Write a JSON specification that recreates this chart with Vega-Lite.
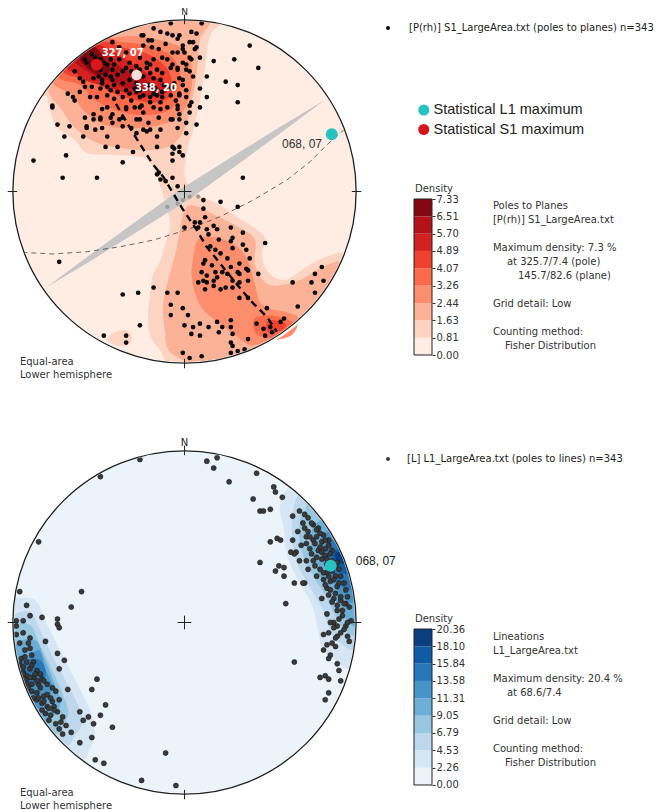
{
  "$schema": "https://vega.github.io/schema/vega-lite/v6.json",
  "background": "white",
  "padding": {"left": 0, "top": 7, "right": 0, "bottom": 0},
  "config": {"view": {"stroke": null}, "font": "DejaVu Sans", "text": {"fontSize": 10, "color": "#333333"}},
  "columns": 2,
  "align": "each",
  "bounds": "flush",
  "spacing": {"row": 62, "column": 45},
  "resolve": {"scale": {"fill": "independent", "color": "independent", "shape": "independent"}},
  "datasets": {
    "center": [{"x": 0, "y": 0}],
    "frame": [
      {"x": 0, "y": 97.5, "x2": 0, "y2": 103}, {"x": 0, "y": -97.5, "x2": 0, "y2": -103},
      {"x": 97.5, "y": 0, "x2": 103, "y2": 0}, {"x": -97.5, "y": 0, "x2": -103, "y2": 0},
      {"x": -4, "y": 0, "x2": 4, "y2": 0}, {"x": 0, "y": -4, "x2": 0, "y2": 4}
    ],
    "north": [{"x": 0, "y": 104.5, "label": "N"}],
    "topContours": [
      {"poly":"t1a","level":0.81,"x":20.8,"y":97.8},{"poly":"t1a","level":0.81,"x":14.9,"y":91.2},{"poly":"t1a","level":0.81,"x":11.9,"y":72.5},{"poly":"t1a","level":0.81,"x":9.0,"y":53.3},{"poly":"t1a","level":0.81,"x":5.0,"y":35.8},{"poly":"t1a","level":0.81,"x":0.9,"y":21.3},{"poly":"t1a","level":0.81,"x":0.3,"y":8.4},{"poly":"t1a","level":0.81,"x":4.4,"y":0.9},{"poly":"t1a","level":0.81,"x":11.9,"y":-3.8},{"poly":"t1a","level":0.81,"x":20.7,"y":-7.9},{"poly":"t1a","level":0.81,"x":30.6,"y":-14.9},{"poly":"t1a","level":0.81,"x":39.9,"y":-20.7},{"poly":"t1a","level":0.81,"x":46.9,"y":-27.1},{"poly":"t1a","level":0.81,"x":45.2,"y":-37.0},{"poly":"t1a","level":0.81,"x":48.7,"y":-46.9},{"poly":"t1a","level":0.81,"x":58.6,"y":-51.6},{"poly":"t1a","level":0.81,"x":70.2,"y":-44.6},{"poly":"t1a","level":0.81,"x":80.1,"y":-39.0},{"poly":"t1a","level":0.81,"x":92.7,"y":-37.5},{"poly":"t1a","level":0.81,"x":76.6,"y":-64.2},{"poly":"t1a","level":0.81,"x":53.0,"y":-84.8},{"poly":"t1a","level":0.81,"x":24.2,"y":-97.0},{"poly":"t1a","level":0.81,"x":-7.0,"y":-99.7},{"poly":"t1a","level":0.81,"x":-14.3,"y":-92.4},{"poly":"t1a","level":0.81,"x":-20.1,"y":-83.6},{"poly":"t1a","level":0.81,"x":-21.3,"y":-72.0},{"poly":"t1a","level":0.81,"x":-20.1,"y":-60.3},{"poly":"t1a","level":0.81,"x":-18.4,"y":-48.7},{"poly":"t1a","level":0.81,"x":-14.3,"y":-41.1},{"poly":"t1a","level":0.81,"x":-11.4,"y":-31.2},{"poly":"t1a","level":0.81,"x":-8.4,"y":-19.5},{"poly":"t1a","level":0.81,"x":-10.8,"y":-7.9},{"poly":"t1a","level":0.81,"x":-14.3,"y":3.8},{"poly":"t1a","level":0.81,"x":-18.9,"y":15.4},{"poly":"t1a","level":0.81,"x":-25.9,"y":20.1},{"poly":"t1a","level":0.81,"x":-39.3,"y":21.3},{"poly":"t1a","level":0.81,"x":-56.8,"y":22.4},{"poly":"t1a","level":0.81,"x":-63.8,"y":30.0},{"poly":"t1a","level":0.81,"x":-74.3,"y":37.6},{"poly":"t1a","level":0.81,"x":-78.4,"y":47.5},{"poly":"t1a","level":0.81,"x":-80.1,"y":55.1},{"poly":"t1a","level":0.81,"x":-81.9,"y":57.4},{"poly":"t1a","level":0.81,"x":-64.3,"y":76.6},{"poly":"t1a","level":0.81,"x":-42.3,"y":90.7},{"poly":"t1a","level":0.81,"x":-17.4,"y":98.5},{"poly":"t1a","level":0.81,"x":8.7,"y":99.6},
      {"poly":"t1b","level":0.81,"x":-41.7,"y":-82.5},{"poly":"t1b","level":0.81,"x":-34.7,"y":-80.7},{"poly":"t1b","level":0.81,"x":-30.6,"y":-84.8},{"poly":"t1b","level":0.81,"x":-32.9,"y":-89.4},{"poly":"t1b","level":0.81,"x":-40.5,"y":-89.4},{"poly":"t1b","level":0.81,"x":-44.6,"y":-86.5},
      {"poly":"t2a","level":1.63,"x":13.9,"y":99.0},{"poly":"t2a","level":1.63,"x":9.0,"y":88.3},{"poly":"t2a","level":1.63,"x":7.3,"y":70.8},{"poly":"t2a","level":1.63,"x":4.4,"y":53.3},{"poly":"t2a","level":1.63,"x":0.3,"y":37.0},{"poly":"t2a","level":1.63,"x":-7.3,"y":27.1},{"poly":"t2a","level":1.63,"x":-20.1,"y":24.2},{"poly":"t2a","level":1.63,"x":-37.6,"y":25.4},{"poly":"t2a","level":1.63,"x":-52.2,"y":28.8},{"poly":"t2a","level":1.63,"x":-63.8,"y":37.0},{"poly":"t2a","level":1.63,"x":-71.4,"y":47.5},{"poly":"t2a","level":1.63,"x":-78.8,"y":61.5},{"poly":"t2a","level":1.63,"x":-57.4,"y":81.9},{"poly":"t2a","level":1.63,"x":-30.9,"y":95.1},{"poly":"t2a","level":1.63,"x":-8.7,"y":99.6},
      {"poly":"t2b","level":1.63,"x":4.4,"y":-7.9},{"poly":"t2b","level":1.63,"x":17.8,"y":-13.7},{"poly":"t2b","level":1.63,"x":32.3,"y":-21.3},{"poly":"t2b","level":1.63,"x":41.1,"y":-28.3},{"poly":"t2b","level":1.63,"x":41.1,"y":-42.8},{"poly":"t2b","level":1.63,"x":49.8,"y":-54.5},{"poly":"t2b","level":1.63,"x":67.3,"y":-51.6},{"poly":"t2b","level":1.63,"x":79.0,"y":-44.6},{"poly":"t2b","level":1.63,"x":90.6,"y":-42.3},{"poly":"t2b","level":1.63,"x":70.7,"y":-70.7},{"poly":"t2b","level":1.63,"x":42.3,"y":-90.6},{"poly":"t2b","level":1.63,"x":8.7,"y":-99.6},{"poly":"t2b","level":1.63,"x":-8.4,"y":-93.5},{"poly":"t2b","level":1.63,"x":-11.4,"y":-80.7},{"poly":"t2b","level":1.63,"x":-12.5,"y":-66.1},{"poly":"t2b","level":1.63,"x":-9.6,"y":-51.6},{"poly":"t2b","level":1.63,"x":-5.5,"y":-37.0},{"poly":"t2b","level":1.63,"x":-2.6,"y":-22.4},{"poly":"t2b","level":1.63,"x":-0.3,"y":-11.9},
      {"poly":"t3a","level":2.44,"x":-43.4,"y":89.4},{"poly":"t3a","level":2.44,"x":-28.8,"y":90.6},{"poly":"t3a","level":2.44,"x":-14.3,"y":88.3},{"poly":"t3a","level":2.44,"x":0.3,"y":82.5},{"poly":"t3a","level":2.44,"x":4.4,"y":70.8},{"poly":"t3a","level":2.44,"x":3.2,"y":56.2},{"poly":"t3a","level":2.44,"x":-2.6,"y":44.6},{"poly":"t3a","level":2.44,"x":-14.3,"y":38.7},{"poly":"t3a","level":2.44,"x":-31.8,"y":37.0},{"poly":"t3a","level":2.44,"x":-46.3,"y":38.7},{"poly":"t3a","level":2.44,"x":-57.9,"y":46.3},{"poly":"t3a","level":2.44,"x":-65.5,"y":56.2},{"poly":"t3a","level":2.44,"x":-76.6,"y":64.3},{"poly":"t3a","level":2.44,"x":-61.6,"y":78.8},{"poly":"t3a","level":2.44,"x":-50.0,"y":86.6},
      {"poly":"t3b","level":2.44,"x":9.0,"y":-27.1},{"poly":"t3b","level":2.44,"x":23.6,"y":-28.3},{"poly":"t3b","level":2.44,"x":35.3,"y":-37.0},{"poly":"t3b","level":2.44,"x":41.1,"y":-54.5},{"poly":"t3b","level":2.44,"x":45.2,"y":-66.1},{"poly":"t3b","level":2.44,"x":58.6,"y":-70.2},{"poly":"t3b","level":2.44,"x":66.1,"y":-73.7},{"poly":"t3b","level":2.44,"x":62.6,"y":-83.6},{"poly":"t3b","level":2.44,"x":48.0,"y":-87.5},{"poly":"t3b","level":2.44,"x":38.2,"y":-89.4},{"poly":"t3b","level":2.44,"x":29.4,"y":-83.6},{"poly":"t3b","level":2.44,"x":17.8,"y":-74.9},{"poly":"t3b","level":2.44,"x":9.0,"y":-66.1},{"poly":"t3b","level":2.44,"x":4.4,"y":-51.6},{"poly":"t3b","level":2.44,"x":5.0,"y":-38.7},
      {"poly":"t4a","level":3.26,"x":-37.6,"y":87.1},{"poly":"t4a","level":3.26,"x":-23.0,"y":85.4},{"poly":"t4a","level":3.26,"x":-8.4,"y":79.5},{"poly":"t4a","level":3.26,"x":-2.6,"y":67.9},{"poly":"t4a","level":3.26,"x":-3.8,"y":53.3},{"poly":"t4a","level":3.26,"x":-11.4,"y":46.3},{"poly":"t4a","level":3.26,"x":-25.9,"y":44.6},{"poly":"t4a","level":3.26,"x":-40.5,"y":47.5},{"poly":"t4a","level":3.26,"x":-52.2,"y":53.3},{"poly":"t4a","level":3.26,"x":-60.9,"y":62.1},{"poly":"t4a","level":3.26,"x":-73.1,"y":68.2},{"poly":"t4a","level":3.26,"x":-46.9,"y":88.3},
      {"poly":"t4b","level":3.26,"x":41.1,"y":-73.7},{"poly":"t4b","level":3.26,"x":52.7,"y":-72.5},{"poly":"t4b","level":3.26,"x":62.6,"y":-76.0},{"poly":"t4b","level":3.26,"x":60.3,"y":-79.0},{"poly":"t4b","level":3.26,"x":49.8,"y":-85.5},{"poly":"t4b","level":3.26,"x":41.1,"y":-81.9},
      {"poly":"t5a","level":4.07,"x":-34.7,"y":83.6},{"poly":"t5a","level":4.07,"x":-20.1,"y":79.5},{"poly":"t5a","level":4.07,"x":-9.6,"y":70.8},{"poly":"t5a","level":4.07,"x":-7.3,"y":58.0},{"poly":"t5a","level":4.07,"x":-14.3,"y":52.2},{"poly":"t5a","level":4.07,"x":-28.8,"y":53.3},{"poly":"t5a","level":4.07,"x":-43.4,"y":58.0},{"poly":"t5a","level":4.07,"x":-52.2,"y":63.8},{"poly":"t5a","level":4.07,"x":-70.7,"y":70.7},{"poly":"t5a","level":4.07,"x":-50.0,"y":86.6},
      {"poly":"t5b","level":4.07,"x":48.7,"y":-75.4},{"poly":"t5b","level":4.07,"x":58.6,"y":-76.6},{"poly":"t5b","level":4.07,"x":56.8,"y":-80.9},{"poly":"t5b","level":4.07,"x":48.7,"y":-81.9},
      {"poly":"t6","level":4.89,"x":-43.4,"y":82.5},{"poly":"t6","level":4.89,"x":-31.8,"y":75.5},{"poly":"t6","level":4.89,"x":-20.1,"y":68.0},{"poly":"t6","level":4.89,"x":-11.0,"y":63.0},{"poly":"t6","level":4.89,"x":-11.0,"y":57.0},{"poly":"t6","level":4.89,"x":-20.0,"y":55.0},{"poly":"t6","level":4.89,"x":-33.0,"y":57.0},{"poly":"t6","level":4.89,"x":-45.0,"y":61.0},{"poly":"t6","level":4.89,"x":-56.0,"y":64.0},{"poly":"t6","level":4.89,"x":-62.0,"y":68.0},{"poly":"t6","level":4.89,"x":-68.2,"y":73.1},{"poly":"t6","level":4.89,"x":-53.0,"y":84.8},
      {"poly":"t7","level":5.70,"x":-46.3,"y":79.5},{"poly":"t7","level":5.70,"x":-38.7,"y":73.7},{"poly":"t7","level":5.70,"x":-28.8,"y":67.9},{"poly":"t7","level":5.70,"x":-17.2,"y":62.1},{"poly":"t7","level":5.70,"x":-14.0,"y":59.0},{"poly":"t7","level":5.70,"x":-23.0,"y":58.5},{"poly":"t7","level":5.70,"x":-34.7,"y":60.5},{"poly":"t7","level":5.70,"x":-44.6,"y":65.0},{"poly":"t7","level":5.70,"x":-53.9,"y":68.5},{"poly":"t7","level":5.70,"x":-64.3,"y":76.6},{"poly":"t7","level":5.70,"x":-54.5,"y":83.9},
      {"poly":"t8","level":6.51,"x":-61.0,"y":78.1},{"poly":"t8","level":6.51,"x":-53.0,"y":84.8},{"poly":"t8","level":6.51,"x":-46.3,"y":76.6},{"poly":"t8","level":6.51,"x":-43.4,"y":70.8},{"poly":"t8","level":6.51,"x":-49.2,"y":67.9},{"poly":"t8","level":6.51,"x":-55.1,"y":70.8}
    ],
    "botContours": [
      {"poly":"b1e","level":2.26,"x":55.6,"y":68.5},{"poly":"b1e","level":2.26,"x":58.0,"y":53.9},{"poly":"b1e","level":2.26,"x":59.7,"y":39.3},{"poly":"b1e","level":2.26,"x":66.1,"y":24.8},{"poly":"b1e","level":2.26,"x":74.3,"y":10.2},{"poly":"b1e","level":2.26,"x":77.8,"y":-4.4},{"poly":"b1e","level":2.26,"x":80.1,"y":-14.9},{"poly":"b1e","level":2.26,"x":87.7,"y":-21.9},{"poly":"b1e","level":2.26,"x":96.6,"y":-25.9},{"poly":"b1e","level":2.26,"x":100.0,"y":0},{"poly":"b1e","level":2.26,"x":96.6,"y":25.9},{"poly":"b1e","level":2.26,"x":86.6,"y":50.0},{"poly":"b1e","level":2.26,"x":70.7,"y":70.7},{"poly":"b1e","level":2.26,"x":61.6,"y":78.8},
      {"poly":"b1w","level":2.26,"x":-87.1,"y":13.1},{"poly":"b1w","level":2.26,"x":-81.3,"y":1.5},{"poly":"b1w","level":2.26,"x":-75.5,"y":-10.2},{"poly":"b1w","level":2.26,"x":-69.6,"y":-21.9},{"poly":"b1w","level":2.26,"x":-62.1,"y":-36.4},{"poly":"b1w","level":2.26,"x":-55.1,"y":-51.0},{"poly":"b1w","level":2.26,"x":-52.2,"y":-65.6},{"poly":"b1w","level":2.26,"x":-55.1,"y":-73.1},{"poly":"b1w","level":2.26,"x":-61.6,"y":-78.8},{"poly":"b1w","level":2.26,"x":-86.6,"y":-50.0},{"poly":"b1w","level":2.26,"x":-98.5,"y":-17.4},{"poly":"b1w","level":2.26,"x":-99.6,"y":8.7},{"poly":"b1w","level":2.26,"x":-99.0,"y":13.9},
      {"poly":"b2e","level":4.53,"x":63.2,"y":63.8},{"poly":"b2e","level":4.53,"x":62.6,"y":49.8},{"poly":"b2e","level":4.53,"x":65.6,"y":34.7},{"poly":"b2e","level":4.53,"x":73.1,"y":20.7},{"poly":"b2e","level":4.53,"x":80.7,"y":7.3},{"poly":"b2e","level":4.53,"x":84.8,"y":-4.4},{"poly":"b2e","level":4.53,"x":90.6,"y":-11.9},{"poly":"b2e","level":4.53,"x":99.0,"y":-13.9},{"poly":"b2e","level":4.53,"x":98.5,"y":17.4},{"poly":"b2e","level":4.53,"x":90.6,"y":42.3},{"poly":"b2e","level":4.53,"x":76.6,"y":64.3},{"poly":"b2e","level":4.53,"x":66.9,"y":74.3},
      {"poly":"b2w","level":4.53,"x":-90.0,"y":6.1},{"poly":"b2w","level":4.53,"x":-84.2,"y":-4.4},{"poly":"b2w","level":4.53,"x":-77.2,"y":-18.9},{"poly":"b2w","level":4.53,"x":-69.6,"y":-33.5},{"poly":"b2w","level":4.53,"x":-62.1,"y":-48.1},{"poly":"b2w","level":4.53,"x":-59.7,"y":-58.0},{"poly":"b2w","level":4.53,"x":-63.8,"y":-65.6},{"poly":"b2w","level":4.53,"x":-70.7,"y":-70.7},{"poly":"b2w","level":4.53,"x":-90.6,"y":-42.3},{"poly":"b2w","level":4.53,"x":-99.6,"y":-8.7},{"poly":"b2w","level":4.53,"x":-99.9,"y":3.5},
      {"poly":"b3e","level":6.79,"x":70.2,"y":65.6},{"poly":"b3e","level":6.79,"x":67.3,"y":59.7},{"poly":"b3e","level":6.79,"x":67.3,"y":45.2},{"poly":"b3e","level":6.79,"x":73.1,"y":30.6},{"poly":"b3e","level":6.79,"x":81.9,"y":16.0},{"poly":"b3e","level":6.79,"x":87.7,"y":4.4},{"poly":"b3e","level":6.79,"x":93.5,"y":-4.4},{"poly":"b3e","level":6.79,"x":99.9,"y":-5.2},{"poly":"b3e","level":6.79,"x":96.6,"y":25.9},{"poly":"b3e","level":6.79,"x":86.6,"y":50.0},{"poly":"b3e","level":6.79,"x":73.1,"y":68.2},
      {"poly":"b3w","level":6.79,"x":-90.0,"y":-1.5},{"poly":"b3w","level":6.79,"x":-84.2,"y":-13.1},{"poly":"b3w","level":6.79,"x":-77.2,"y":-27.7},{"poly":"b3w","level":6.79,"x":-70.8,"y":-42.2},{"poly":"b3w","level":6.79,"x":-67.9,"y":-53.9},{"poly":"b3w","level":6.79,"x":-76.6,"y":-64.3},{"poly":"b3w","level":6.79,"x":-94.0,"y":-34.2},{"poly":"b3w","level":6.79,"x":-99.9,"y":-3.5},
      {"poly":"b4e","level":9.05,"x":77.8,"y":58.6},{"poly":"b4e","level":9.05,"x":74.3,"y":53.6},{"poly":"b4e","level":9.05,"x":74.3,"y":39.3},{"poly":"b4e","level":9.05,"x":80.1,"y":24.8},{"poly":"b4e","level":9.05,"x":87.7,"y":13.1},{"poly":"b4e","level":9.05,"x":93.5,"y":2.6},{"poly":"b4e","level":9.05,"x":100.0,"y":0},{"poly":"b4e","level":9.05,"x":94.0,"y":34.2},{"poly":"b4e","level":9.05,"x":81.9,"y":57.4},
      {"poly":"b4w","level":9.05,"x":-87.1,"y":-10.2},{"poly":"b4w","level":9.05,"x":-81.3,"y":-21.9},{"poly":"b4w","level":9.05,"x":-75.5,"y":-36.4},{"poly":"b4w","level":9.05,"x":-72.5,"y":-48.1},{"poly":"b4w","level":9.05,"x":-81.9,"y":-57.4},{"poly":"b4w","level":9.05,"x":-94.0,"y":-34.2},{"poly":"b4w","level":9.05,"x":-99.0,"y":-13.9},
      {"poly":"b5e","level":11.31,"x":81.9,"y":51.0},{"poly":"b5e","level":11.31,"x":79.0,"y":48.1},{"poly":"b5e","level":11.31,"x":80.1,"y":36.4},{"poly":"b5e","level":11.31,"x":85.9,"y":24.8},{"poly":"b5e","level":11.31,"x":92.4,"y":14.3},{"poly":"b5e","level":11.31,"x":99.0,"y":13.9},{"poly":"b5e","level":11.31,"x":90.6,"y":42.3},{"poly":"b5e","level":11.31,"x":84.8,"y":53.0},
      {"poly":"b5w","level":11.31,"x":-85.4,"y":-16.0},{"poly":"b5w","level":11.31,"x":-81.3,"y":-26.5},{"poly":"b5w","level":11.31,"x":-77.2,"y":-39.3},{"poly":"b5w","level":11.31,"x":-86.6,"y":-50.0},{"poly":"b5w","level":11.31,"x":-95.6,"y":-29.2},
      {"poly":"b6e","level":13.58,"x":83.0,"y":43.4},{"poly":"b6e","level":13.58,"x":84.8,"y":33.5},{"poly":"b6e","level":13.58,"x":90.6,"y":21.9},{"poly":"b6e","level":13.58,"x":97.8,"y":20.8},{"poly":"b6e","level":13.58,"x":88.3,"y":46.9},
      {"poly":"b6w","level":13.58,"x":-84.2,"y":-21.9},{"poly":"b6w","level":13.58,"x":-81.3,"y":-32.3},{"poly":"b6w","level":13.58,"x":-92.7,"y":-37.5},{"poly":"b6w","level":13.58,"x":-97.0,"y":-24.2},
      {"poly":"b7e","level":15.84,"x":86.5,"y":39.3},{"poly":"b7e","level":15.84,"x":89.4,"y":30.6},{"poly":"b7e","level":15.84,"x":95.6,"y":29.2},{"poly":"b7e","level":15.84,"x":90.6,"y":42.3},
      {"poly":"b8e","level":18.10,"x":87.7,"y":40.1},{"poly":"b8e","level":18.10,"x":89.4,"y":35.4},{"poly":"b8e","level":18.10,"x":94.0,"y":34.2},{"poly":"b8e","level":18.10,"x":91.4,"y":40.7}
    ],
    "wedge": [
      {"x":-80.2,"y":-55.7},{"x":-56.7,"y":-38.1},{"x":-33.0,"y":-20.8},{"x":-1.2,"y":2.0},{"x":31.8,"y":22.8},{"x":56.8,"y":38.3},{"x":81.9,"y":53.4},{"x":58.4,"y":35.8},{"x":34.8,"y":18.5},{"x":3.0,"y":-4.3},{"x":-30.1,"y":-25.1},{"x":-55.0,"y":-40.6}
    ],
    "gcThin": [
      {"x":93.2,"y":36.2},{"x":82.9,"y":27.1},{"x":73.2,"y":17.4},{"x":59.6,"y":6.7},{"x":40.1,"y":-5.0},{"x":20.7,"y":-14.7},{"x":1.3,"y":-22.4},{"x":-18.2,"y":-28.3},{"x":-37.6,"y":-32.2},{"x":-57.0,"y":-35.1},{"x":-76.5,"y":-36.4},{"x":-93.5,"y":-35.5}
    ],
    "gcThick": [
      {"x":-39.9,"y":51.0},{"x":-29.9,"y":33.9},{"x":-18.2,"y":15.5},{"x":-12.4,"y":8.6},{"x":-0.7,"y":-10.8},{"x":7.1,"y":-22.4},{"x":12.9,"y":-32.2},{"x":20.7,"y":-41.9},{"x":28.5,"y":-51.6},{"x":38.2,"y":-63.3},{"x":48.1,"y":-73.2},{"x":53.8,"y":-81.7}
    ],
    "topDots": [
      {"x":-8,"y":98},{"x":10,"y":98},{"x":-18,"y":95},{"x":-14,"y":93},{"x":-24,"y":91},{"x":-19,"y":88},{"x":-7,"y":91},{"x":-3,"y":91},{"x":4,"y":93},{"x":7,"y":92},{"x":3,"y":87},{"x":6,"y":83},{"x":-1,"y":83},{"x":9,"y":78},{"x":4,"y":77},{"x":-1,"y":75},{"x":-4,"y":72},{"x":1,"y":71},{"x":-1,"y":65},{"x":5,"y":67},{"x":13,"y":67},{"x":17,"y":76},{"x":29,"y":77},{"x":38,"y":85},{"x":43,"y":72},{"x":31,"y":52},{"x":4,"y":52},{"x":1,"y":55},{"x":-3,"y":57},{"x":-7,"y":60},{"x":-4,"y":48},{"x":-3,"y":45},{"x":-7,"y":42},{"x":1,"y":40},{"x":1,"y":34},{"x":-7,"y":26},{"x":-7,"y":22},{"x":-16,"y":26},{"x":-16,"y":32},{"x":-20,"y":36},{"x":-24,"y":36},{"x":-28,"y":42},{"x":-24,"y":46},{"x":-26,"y":49},{"x":-18,"y":49},{"x":-14,"y":48},{"x":-13,"y":55},{"x":-18,"y":57},{"x":-26,"y":55},{"x":-31,"y":53},{"x":-34,"y":49},{"x":-38,"y":42},{"x":-43,"y":43},{"x":-49,"y":43},{"x":-45,"y":49},{"x":-53,"y":45},{"x":-58,"y":43},{"x":-57,"y":38},{"x":-52,"y":36},{"x":-48,"y":37},{"x":-45,"y":32},{"x":-59,"y":32},{"x":-67,"y":38},{"x":-70,"y":32},{"x":-74,"y":39},{"x":-77,"y":49},{"x":-68,"y":57},{"x":-64,"y":53},{"x":-55,"y":55},{"x":-49,"y":60},{"x":-61,"y":66},{"x":-64,"y":70},{"x":-46,"y":26},{"x":-39,"y":26},{"x":-30,"y":23},{"x":-69,"y":21},{"x":-88,"y":18},{"x":-36,"y":17},{"x":-71,"y":8},{"x":-51,"y":8},{"x":-15,"y":11},{"x":-14,"y":7},{"x":-11,"y":6},{"x":-7,"y":18},{"x":-1,"y":21},{"x":-3,"y":26},{"x":34,"y":8},
      {"x":-10,"y":92},{"x":-4,"y":89},{"x":5,"y":87},{"x":-1,"y":85},{"x":-7,"y":81},{"x":-4,"y":81},{"x":0,"y":81},{"x":7,"y":84},{"x":3,"y":78},{"x":31,"y":62},{"x":24,"y":64},{"x":-25,"y":91},{"x":-21,"y":88},{"x":-24,"y":85},{"x":-19,"y":84},{"x":-15,"y":83},{"x":-13,"y":78},{"x":-18,"y":77},{"x":-22,"y":75},{"x":-26,"y":78},{"x":-32,"y":75},{"x":-34,"y":81},{"x":-38,"y":84},{"x":-42,"y":87},{"x":-54,"y":80},{"x":-58,"y":77},{"x":-57,"y":75},{"x":-54,"y":73},{"x":-49,"y":71},{"x":-45,"y":74},{"x":-42,"y":71},{"x":-39,"y":68},{"x":-43,"y":67},{"x":-48,"y":65},{"x":-53,"y":66},{"x":-59,"y":64},{"x":-58,"y":61},{"x":-54,"y":61},{"x":-45,"y":61},{"x":-41,"y":62},{"x":-36,"y":63},{"x":-32,"y":65},{"x":-28,"y":63},{"x":-24,"y":67},{"x":-20,"y":69},{"x":-16,"y":71},{"x":-13,"y":69},{"x":-8,"y":72},{"x":-4,"y":71},{"x":-3,"y":66},{"x":-6,"y":63},{"x":-8,"y":61},{"x":-13,"y":58},{"x":-16,"y":56},{"x":-20,"y":55},{"x":-24,"y":56},{"x":-28,"y":58},{"x":-32,"y":57},{"x":-36,"y":55},{"x":-41,"y":54},{"x":-45,"y":56},{"x":-51,"y":55},{"x":-61,"y":58},{"x":-65,"y":55},{"x":-53,"y":42},{"x":-48,"y":48},{"x":-42,"y":45},{"x":-36,"y":43},{"x":-34,"y":48},{"x":-29,"y":49},{"x":-25,"y":50},{"x":-20,"y":52},{"x":-14,"y":52},{"x":-10,"y":49},{"x":-4,"y":50},{"x":-3,"y":56},{"x":1,"y":59},{"x":3,"y":50},{"x":3,"y":46},{"x":-3,"y":42},{"x":-8,"y":42},{"x":-15,"y":43},{"x":-21,"y":40},{"x":-26,"y":42},{"x":-31,"y":37},{"x":-36,"y":38},{"x":-42,"y":40},{"x":-49,"y":42},{"x":-57,"y":37},{"x":-4,"y":37},{"x":-14,"y":36},{"x":-22,"y":35},{"x":-28,"y":34},{"x":9,"y":60},{"x":13,"y":55},{"x":9,"y":49},{"x":7,"y":39},
      {"x":-49,"y":77},{"x":-47,"y":75},{"x":-52,"y":78},{"x":-43,"y":77},{"x":-41,"y":74},{"x":-38,"y":77},{"x":-34,"y":72},{"x":-36,"y":70},{"x":-31,"y":70},{"x":-28,"y":73},{"x":-26,"y":71},{"x":-22,"y":72},{"x":-20,"y":74},{"x":-18,"y":66},{"x":-14,"y":65},{"x":-12,"y":62},{"x":-17,"y":60},{"x":-21,"y":62},{"x":-26,"y":59},{"x":-29,"y":60},{"x":-34,"y":59},{"x":-39,"y":58},{"x":-43,"y":59},{"x":-48,"y":63},{"x":-50,"y":67},{"x":-46,"y":68},{"x":-42,"y":65},{"x":-10,"y":77},{"x":-7,"y":74},{"x":-11,"y":86},{"x":1,"y":74},{"x":3,"y":70},{"x":-1,"y":62},{"x":-8,"y":56},{"x":-5,"y":53},
      {"x":-77,"y":50},{"x":-6,"y":25},{"x":-3,"y":23},{"x":-7,"y":8},{"x":-16,"y":10},{"x":-4,"y":3},
      {"x":11,"y":-5},{"x":21,"y":-6},{"x":31,"y":-9},{"x":11,"y":-10},{"x":12,"y":-15},{"x":0,"y":-21},{"x":6,"y":-18},{"x":8,"y":-21},{"x":13,"y":-22},{"x":14,"y":-25},{"x":19,"y":-22},{"x":20,"y":-28},{"x":27,"y":-21},{"x":28,"y":-27},{"x":27,"y":-29},{"x":15,"y":-32},{"x":18,"y":-34},{"x":21,"y":-36},{"x":25,"y":-39},{"x":28,"y":-33},{"x":34,"y":-31},{"x":36,"y":-34},{"x":38,"y":-39},{"x":32,"y":-42},{"x":36,"y":-45},{"x":43,"y":-48},{"x":47,"y":-30},{"x":11,"y":-42},{"x":16,"y":-43},{"x":18,"y":-47},{"x":10,"y":-47},{"x":13,"y":-49},{"x":19,"y":-50},{"x":22,"y":-47},{"x":25,"y":-48},{"x":31,"y":-47},{"x":32,"y":-53},{"x":28,"y":-56},{"x":24,"y":-56},{"x":21,"y":-57},{"x":17,"y":-55},{"x":13,"y":-53},{"x":8,"y":-53},{"x":12,"y":-57},{"x":80,"y":-44},{"x":76,"y":-48},{"x":81,"y":-52},{"x":74,"y":-53},{"x":63,"y":-53},{"x":76,"y":-59},{"x":-36,"y":-60},{"x":-27,"y":-59},{"x":-18,"y":-56},{"x":-10,"y":-59},{"x":-4,"y":-59},{"x":-73,"y":-41},{"x":-26,"y":-78},{"x":-47,"y":-84},{"x":-34,"y":-84},{"x":-34,"y":-88},{"x":-8,"y":-66},{"x":-1,"y":-68},{"x":2,"y":-72},{"x":-8,"y":-72},{"x":0,"y":-78},{"x":5,"y":-79},{"x":9,"y":-77},{"x":4,"y":-83},{"x":9,"y":-84},{"x":14,"y":-79},{"x":19,"y":-76},{"x":20,"y":-82},{"x":22,"y":-79},{"x":27,"y":-75},{"x":27,"y":-79},{"x":28,"y":-83},{"x":27,"y":-88},{"x":28,"y":-90},{"x":31,"y":-93},{"x":35,"y":-92},{"x":37,"y":-86},{"x":42,"y":-77},{"x":46,"y":-80},{"x":50,"y":-79},{"x":47,"y":-84},{"x":51,"y":-82},{"x":56,"y":-76},{"x":58,"y":-74},{"x":48,"y":-68},{"x":66,"y":-67},{"x":32,"y":-62},{"x":37,"y":-62},{"x":-1,"y":-94},{"x":3,"y":-97},{"x":10,"y":-96},{"x":27,"y":-94},{"x":9,"y":-18},{"x":17,"y":-20},{"x":34,"y":-24},{"x":12,"y":-40},{"x":27,"y":-44},{"x":32,"y":-48},{"x":37,"y":-46},{"x":11,"y":-52},{"x":17,"y":-52},{"x":28,"y":-52},{"x":37,"y":-52}
    ],
    "topGray": [{"x":-10,"y":-9},{"x":-4,"y":-7},{"x":-1,"y":-5},{"x":3,"y":-3},{"x":8,"y":-3}],
    "botDots": [
      {"x":-26,"y":95},{"x":-49,"y":85},{"x":13,"y":94},{"x":19,"y":96},{"x":17,"y":90},{"x":26,"y":82},{"x":42,"y":87},{"x":52,"y":79},{"x":53,"y":76},{"x":57,"y":73},{"x":40,"y":72},{"x":44,"y":65},{"x":46,"y":65},{"x":50,"y":66},{"x":63,"y":62},{"x":54,"y":49},{"x":50,"y":47},{"x":44,"y":35},{"x":53,"y":30},{"x":55,"y":33},{"x":58,"y":27},{"x":59,"y":11},{"x":64,"y":23},{"x":70,"y":23},{"x":65,"y":41},{"x":-85,"y":47},{"x":-60,"y":18},{"x":-66,"y":9},{"x":-74,"y":2},{"x":-83,"y":3},{"x":-96,"y":18},{"x":-92,"y":10},{"x":-90,"y":4},
      {"x":67,"y":65},{"x":70,"y":63},{"x":72,"y":61},{"x":75,"y":57},{"x":78,"y":55},{"x":81,"y":51},{"x":69,"y":58},{"x":66,"y":53},{"x":72,"y":53},{"x":77,"y":50},{"x":80,"y":47},{"x":84,"y":45},{"x":86,"y":42},{"x":63,"y":48},{"x":68,"y":45},{"x":73,"y":43},{"x":78,"y":42},{"x":82,"y":39},{"x":89,"y":35},{"x":90,"y":31},{"x":91,"y":27},{"x":93,"y":23},{"x":95,"y":15},{"x":96,"y":9},{"x":97,"y":1},{"x":94,"y":-2},{"x":95,"y":-8},{"x":92,"y":4},{"x":89,"y":7},{"x":87,"y":0},{"x":83,"y":5},{"x":85,"y":0},{"x":89,"y":-8},{"x":84,"y":-6},{"x":81,"y":-7},{"x":96,"y":-11},{"x":91,"y":13},{"x":94,"y":11},{"x":87,"y":14},{"x":94,"y":19},{"x":89,"y":21},{"x":85,"y":24},{"x":88,"y":27},{"x":83,"y":29},{"x":86,"y":30},{"x":81,"y":25},{"x":83,"y":20},{"x":84,"y":16},{"x":80,"y":14},{"x":86,"y":36},{"x":83,"y":37},{"x":80,"y":41},{"x":84,"y":48},{"x":75,"y":48},{"x":71,"y":50},{"x":71,"y":36},{"x":75,"y":36},{"x":76,"y":33},{"x":72,"y":31},{"x":77,"y":27},{"x":67,"y":36},{"x":64,"y":40},{"x":62,"y":41},{"x":56,"y":48},{"x":58,"y":32},{"x":69,"y":23},{"x":64,"y":-23},{"x":81,"y":-16},{"x":85,"y":-19},{"x":84,"y":-21},{"x":89,"y":-24},{"x":90,"y":-28},{"x":82,"y":-31},{"x":79,"y":-32},{"x":84,"y":-33},{"x":91,"y":-34},{"x":88,"y":-9},{"x":89,"y":-2},{"x":95,"y":0},{"x":84,"y":-41},{"x":82,"y":-45},
      {"x":74,"y":58},{"x":77,"y":54},{"x":79,"y":52},{"x":82,"y":48},{"x":70,"y":55},{"x":73,"y":50},{"x":76,"y":46},{"x":79,"y":44},{"x":82,"y":43},{"x":85,"y":40},{"x":71,"y":46},{"x":74,"y":40},{"x":77,"y":38},{"x":80,"y":37},{"x":83,"y":34},{"x":86,"y":32},{"x":88,"y":33},{"x":79,"y":31},{"x":81,"y":29},{"x":84,"y":27},{"x":87,"y":25},{"x":90,"y":23},{"x":82,"y":22},{"x":85,"y":19},{"x":88,"y":17},{"x":91,"y":15},{"x":93,"y":11},{"x":89,"y":10},{"x":86,"y":12},{"x":92,"y":7},{"x":90,"y":2},{"x":93,"y":-4},{"x":91,"y":-6},{"x":87,"y":-3},{"x":86,"y":-12},{"x":88,"y":-14},{"x":83,"y":-13},
      {"x":-74,"y":-1},{"x":-73,"y":-3},{"x":-98,"y":1},{"x":-94,"y":1},{"x":-98,"y":-2},{"x":-94,"y":-6},{"x":-98,"y":-7},{"x":-90,"y":-9},{"x":-81,"y":-11},{"x":-96,"y":-12},{"x":-93,"y":-16},{"x":-90,"y":-15},{"x":-89,"y":-19},{"x":-95,"y":-21},{"x":-92,"y":-23},{"x":-88,"y":-23},{"x":-94,"y":-26},{"x":-90,"y":-27},{"x":-86,"y":-28},{"x":-92,"y":-31},{"x":-88,"y":-32},{"x":-83,"y":-33},{"x":-92,"y":-35},{"x":-89,"y":-36},{"x":-85,"y":-36},{"x":-82,"y":-34},{"x":-89,"y":-40},{"x":-86,"y":-41},{"x":-82,"y":-43},{"x":-86,"y":-45},{"x":-83,"y":-47},{"x":-80,"y":-49},{"x":-83,"y":-51},{"x":-81,"y":-53},{"x":-78,"y":-54},{"x":-79,"y":-50},{"x":-77,"y":-38},{"x":-75,"y":-40},{"x":-73,"y":-45},{"x":-77,"y":-46},{"x":-76,"y":-49},{"x":-74,"y":-52},{"x":-71,"y":-55},{"x":-75,"y":-59},{"x":-73,"y":-62},{"x":-71,"y":-65},{"x":-66,"y":-64},{"x":-61,"y":-52},{"x":-56,"y":-55},{"x":-59,"y":-57},{"x":-53,"y":-59},{"x":-49,"y":-54},{"x":-46,"y":-48},{"x":-42,"y":-61},{"x":-54,"y":-67},{"x":-61,"y":-70},{"x":-52,"y":-80},{"x":-47,"y":-82},{"x":-51,"y":-33},{"x":-54,"y":-39},{"x":-68,"y":-39},{"x":-70,"y":-22},{"x":-73,"y":-27},{"x":-74,"y":-18},{"x":-94,"y":-29},{"x":-93,"y":-33},{"x":-25,"y":-92},{"x":-5,"y":-95},{"x":-11,"y":-76},
      {"x":-91,"y":-12},{"x":-93,"y":-20},{"x":-89,"y":-25},{"x":-87,"y":-30},{"x":-84,"y":-38},{"x":-80,"y":-42},{"x":-82,"y":-46},{"x":-78,"y":-44},{"x":-85,"y":-44},{"x":-88,"y":-44},{"x":-91,"y":-38},{"x":-94,"y":-30},{"x":-96,"y":-24},{"x":-90,"y":-32},{"x":-86,"y":-34},{"x":-84,"y":-30},{"x":-80,"y":-36},{"x":-76,"y":-51},{"x":-72,"y":-58},{"x":-69,"y":-60},{"x":-79,"y":-57}
    ],
    "topMax": [
      {"x": 85.8, "y": 33.4, "name": "Statistical L1 maximum", "label": "068, 07"},
      {"x": -51.2, "y": 73.8, "name": "Statistical S1 maximum", "label": "327, 07"}
    ],
    "topPink": [{"x": -27.9, "y": 67.9, "label": "338, 20"}],
    "botMax": [{"x": 85.2, "y": 33.1, "label": "068, 07"}],
    "topBins": [
      {"from":0,"to":0.81},{"from":0.81,"to":1.63},{"from":1.63,"to":2.44},{"from":2.44,"to":3.26},{"from":3.26,"to":4.07},{"from":4.07,"to":4.89},{"from":4.89,"to":5.70},{"from":5.70,"to":6.51},{"from":6.51,"to":7.33}
    ],
    "botBins": [
      {"from":0,"to":2.26},{"from":2.26,"to":4.53},{"from":4.53,"to":6.79},{"from":6.79,"to":9.05},{"from":9.05,"to":11.31},{"from":11.31,"to":13.58},{"from":13.58,"to":15.84},{"from":15.84,"to":18.10},{"from":18.10,"to":20.36}
    ]
  },
  "concat": [
    {
      "width": 369,
      "height": 369,
      "layer": [
        {
          "encoding": {
            "x": {"field": "x", "type": "quantitative", "scale": {"domain": [-107.5, 107.5], "nice": false, "zero": false}, "axis": null},
            "y": {"field": "y", "type": "quantitative", "scale": {"domain": [-107.5, 107.5], "nice": false, "zero": false}, "axis": null}
          },
          "layer": [
            {"data": {"name": "center"}, "mark": {"type": "point", "shape": "circle", "size": 117826, "filled": true, "color": "#ffece3", "opacity": 1, "strokeWidth": 0}},
            {"data": {"name": "topContours"}, "mark": {"type": "line", "interpolate": "cardinal-closed", "strokeWidth": 0},
             "encoding": {"detail": {"field": "poly", "type": "nominal"}, "order": {"value": null},
               "fill": {"field": "level", "type": "quantitative", "scale": {"type": "threshold", "domain": [0.81, 1.63, 2.44, 3.26, 4.07, 4.89, 5.70, 6.51], "range": ["#ffece3", "#fdd4c2", "#fcb297", "#fc8e6e", "#fb6a4a", "#f0402f", "#d32020", "#b21218", "#830711"]}, "legend": null}}},
            {"data": {"name": "wedge"}, "mark": {"type": "line", "interpolate": "linear-closed", "fill": "#c6c6c6", "strokeWidth": 0}, "encoding": {"order": {"value": null}}},
            {"data": {"name": "gcThin"}, "mark": {"type": "line", "color": "#444444", "strokeWidth": 0.8, "strokeDash": [5, 4]}, "encoding": {"order": {"value": null}}},
            {"data": {"name": "gcThick"}, "mark": {"type": "line", "color": "#000000", "strokeWidth": 2.4, "strokeDash": [7, 5]}, "encoding": {"order": {"value": null}}},
            {"data": {"name": "topDots"}, "mark": {"type": "point", "filled": true, "size": 22, "color": "#0b0b0b", "opacity": 1},
             "encoding": {"shape": {"datum": "[P(rh)] S1_LargeArea.txt (poles to planes) n=343", "type": "nominal", "scale": {"range": ["circle"]},
               "legend": {"orient": "none", "legendX": 383, "legendY": 16, "title": null, "padding": 0, "labelFontSize": 10, "labelColor": "#222222", "labelLimit": 400, "labelOffset": 16, "symbolSize": 16, "symbolType": "circle", "symbolFillColor": "#111111", "symbolStrokeWidth": 0}}}},
            {"data": {"name": "topGray"}, "mark": {"type": "point", "filled": true, "size": 18, "color": "#9a9a9a", "opacity": 1}},
            {"data": {"name": "center"}, "mark": {"type": "point", "shape": "circle", "size": 119200, "filled": false, "color": "white", "strokeWidth": 4, "opacity": 1}},
            {"data": {"name": "center"}, "mark": {"type": "point", "shape": "circle", "size": 117826, "filled": false, "color": "#1e1e1e", "strokeWidth": 1.3, "opacity": 1}},
            {"data": {"name": "frame"}, "mark": {"type": "rule", "color": "#222222", "strokeWidth": 1}, "encoding": {"x2": {"field": "x2"}, "y2": {"field": "y2"}}},
            {"data": {"name": "north"}, "mark": {"type": "text", "baseline": "middle", "fontSize": 9, "color": "#222222"}, "encoding": {"text": {"field": "label"}}},
            {"data": {"name": "topMax"}, "mark": {"type": "point", "shape": "circle", "filled": true, "size": 144, "opacity": 1},
             "encoding": {"color": {"field": "name", "type": "nominal", "scale": {"domain": ["Statistical L1 maximum", "Statistical S1 maximum"], "range": ["#27c3c3", "#d8161b"]},
               "legend": {"orient": "none", "legendX": 416.5, "legendY": 95.75, "title": null, "padding": 0, "labelFont": "Liberation Sans", "labelFontSize": 14.5, "labelColor": "#222222", "labelOffset": 2.5, "rowPadding": 4.5, "symbolSize": 121, "symbolType": "circle", "symbolStrokeWidth": 0, "labelLimit": 300}}}},
            {"data": {"name": "topPink"}, "mark": {"type": "point", "shape": "circle", "filled": true, "size": 110, "color": "#f7e0da", "opacity": 1}},
            {"data": {"name": "topMax"}, "transform": [{"filter": {"field": "name", "equal": "Statistical L1 maximum"}}],
             "mark": {"type": "text", "align": "right", "baseline": "middle", "dx": -9.7, "dy": 10, "font": "Liberation Sans", "fontSize": 12, "color": "#333333"}, "encoding": {"text": {"field": "label"}}},
            {"data": {"name": "topMax"}, "transform": [{"filter": {"field": "name", "equal": "Statistical S1 maximum"}}],
             "mark": {"type": "text", "align": "left", "baseline": "middle", "dx": 5, "dy": -11.7, "fontSize": 10, "fontWeight": "bold", "color": "white"}, "encoding": {"text": {"field": "label"}}},
            {"data": {"name": "topPink"}, "mark": {"type": "text", "align": "left", "baseline": "middle", "dx": -1.7, "dy": 12.7, "fontSize": 10, "fontWeight": "bold", "color": "white"}, "encoding": {"text": {"field": "label"}}}
          ]
        },
        {"data": {"values": [{"t": "Equal-area\nLower hemisphere"}]}, "mark": {"type": "text", "align": "left", "baseline": "top", "lineBreak": "\n", "lineHeight": 13},
         "encoding": {
           "x": {"datum": -95.9, "type": "quantitative", "scale": {"domain": [-107.5, 107.5], "nice": false, "zero": false}, "axis": null},
           "y": {"datum": -96.3, "type": "quantitative", "scale": {"domain": [-107.5, 107.5], "nice": false, "zero": false}, "axis": null},
           "text": {"field": "t"}}},
        {
          "encoding": {"x": {"datum": 179.7, "type": "quantitative", "scale": {"domain": [-107.5, 107.5], "nice": false, "zero": false}, "axis": null}},
          "layer": [
            {"data": {"values": [{"t": "Poles to Planes\n[P(rh)] S1_LargeArea.txt"}]}, "mark": {"type": "text", "align": "left", "baseline": "top", "lineBreak": "\n", "lineHeight": 14},
             "encoding": {"y": {"datum": -5.4, "type": "quantitative", "scale": {"domain": [-107.5, 107.5], "nice": false, "zero": false}, "axis": null}, "text": {"field": "t"}}},
            {"data": {"values": [{"t": "Maximum density: 7.3 %"}]}, "mark": {"type": "text", "align": "left", "baseline": "top"},
             "encoding": {"y": {"datum": -29.9, "type": "quantitative", "scale": {"domain": [-107.5, 107.5], "nice": false, "zero": false}, "axis": null}, "text": {"field": "t"}}},
            {"data": {"values": [{"t": "at 325.7/7.4 (pole)"}]}, "mark": {"type": "text", "align": "left", "baseline": "top", "dx": 14},
             "encoding": {"y": {"datum": -38.0, "type": "quantitative", "scale": {"domain": [-107.5, 107.5], "nice": false, "zero": false}, "axis": null}, "text": {"field": "t"}}},
            {"data": {"values": [{"t": "145.7/82.6 (plane)"}]}, "mark": {"type": "text", "align": "left", "baseline": "top", "dx": 25},
             "encoding": {"y": {"datum": -46.2, "type": "quantitative", "scale": {"domain": [-107.5, 107.5], "nice": false, "zero": false}, "axis": null}, "text": {"field": "t"}}},
            {"data": {"values": [{"t": "Grid detail: Low"}]}, "mark": {"type": "text", "align": "left", "baseline": "top"},
             "encoding": {"y": {"datum": -62.5, "type": "quantitative", "scale": {"domain": [-107.5, 107.5], "nice": false, "zero": false}, "axis": null}, "text": {"field": "t"}}},
            {"data": {"values": [{"t": "Counting method:"}]}, "mark": {"type": "text", "align": "left", "baseline": "top"},
             "encoding": {"y": {"datum": -78.8, "type": "quantitative", "scale": {"domain": [-107.5, 107.5], "nice": false, "zero": false}, "axis": null}, "text": {"field": "t"}}},
            {"data": {"values": [{"t": "Fisher Distribution"}]}, "mark": {"type": "text", "align": "left", "baseline": "top", "dx": 12},
             "encoding": {"y": {"datum": -87.0, "type": "quantitative", "scale": {"domain": [-107.5, 107.5], "nice": false, "zero": false}, "axis": null}, "text": {"field": "t"}}}
          ]
        }
      ]
    },
    {
      "width": 18,
      "height": 369,
      "layer": [
        {"data": {"name": "topBins"}, "mark": {"type": "rect"},
         "encoding": {
           "y": {"field": "from", "type": "quantitative", "scale": {"domain": [-0.9867, 16.352], "nice": false, "zero": false},
             "axis": {"orient": "right", "values": [0, 0.81, 1.63, 2.44, 3.26, 4.07, 4.89, 5.70, 6.51, 7.33], "format": ".2f", "domain": false, "grid": false, "ticks": true, "tickSize": 3, "tickColor": "#333333", "labelPadding": 1, "labelFontSize": 10, "labelColor": "#333333", "title": null, "labelOverlap": false}},
           "y2": {"field": "to"},
           "fill": {"field": "from", "type": "quantitative", "scale": {"type": "threshold", "domain": [0.81, 1.63, 2.44, 3.26, 4.07, 4.89, 5.70, 6.51], "range": ["#ffece3", "#fdd4c2", "#fcb297", "#fc8e6e", "#fb6a4a", "#f0402f", "#d32020", "#b21218", "#830711"]}, "legend": null}}},
        {"data": {"values": [{}]}, "mark": {"type": "rect", "filled": false, "color": "#222222", "strokeWidth": 1},
         "encoding": {"y": {"datum": 0, "type": "quantitative"}, "y2": {"datum": 7.33}}},
        {"data": {"values": [{}]}, "mark": {"type": "text", "text": "Density", "align": "left", "baseline": "bottom", "dx": -8, "dy": -5},
         "encoding": {"y": {"datum": 7.33, "type": "quantitative"}}}
      ]
    },
    {
      "width": 369,
      "height": 369,
      "layer": [
        {
          "encoding": {
            "x": {"field": "x", "type": "quantitative", "scale": {"domain": [-107.5, 107.5], "nice": false, "zero": false}, "axis": null},
            "y": {"field": "y", "type": "quantitative", "scale": {"domain": [-107.5, 107.5], "nice": false, "zero": false}, "axis": null}
          },
          "layer": [
            {"data": {"name": "center"}, "mark": {"type": "point", "shape": "circle", "size": 117826, "filled": true, "color": "#ecf4fb", "opacity": 1, "strokeWidth": 0}},
            {"data": {"name": "botContours"}, "mark": {"type": "line", "interpolate": "cardinal-closed", "strokeWidth": 0},
             "encoding": {"detail": {"field": "poly", "type": "nominal"}, "order": {"value": null},
               "fill": {"field": "level", "type": "quantitative", "scale": {"type": "threshold", "domain": [2.26, 4.53, 6.79, 9.05, 11.31, 13.58, 15.84, 18.10], "range": ["#ecf4fb", "#d6e6f4", "#bdd7ec", "#98c7e0", "#6baed6", "#4795c8", "#2878b9", "#105ca4", "#083f81"]}, "legend": null}}},
            {"data": {"name": "botDots"}, "mark": {"type": "point", "filled": true, "size": 26, "color": "#3a3a3a", "stroke": "#151515", "strokeWidth": 0.5, "opacity": 1},
             "encoding": {"shape": {"datum": "[L] L1_LargeArea.txt (poles to lines) n=343", "type": "nominal", "scale": {"range": ["circle"]},
               "legend": {"orient": "none", "legendX": 383, "legendY": 16, "title": null, "padding": 0, "labelFontSize": 10, "labelColor": "#222222", "labelLimit": 400, "labelOffset": 14, "symbolSize": 16, "symbolType": "circle", "symbolFillColor": "#333333", "symbolStrokeWidth": 0}}}},
            {"data": {"name": "center"}, "mark": {"type": "point", "shape": "circle", "size": 119200, "filled": false, "color": "white", "strokeWidth": 4, "opacity": 1}},
            {"data": {"name": "center"}, "mark": {"type": "point", "shape": "circle", "size": 117826, "filled": false, "color": "#1e1e1e", "strokeWidth": 1.3, "opacity": 1}},
            {"data": {"name": "frame"}, "mark": {"type": "rule", "color": "#222222", "strokeWidth": 1}, "encoding": {"x2": {"field": "x2"}, "y2": {"field": "y2"}}},
            {"data": {"name": "north"}, "mark": {"type": "text", "baseline": "middle", "fontSize": 10, "color": "#222222"}, "encoding": {"text": {"field": "label"}}},
            {"data": {"name": "botMax"}, "mark": {"type": "point", "shape": "circle", "filled": true, "size": 144, "color": "#27c3c3", "opacity": 1}},
            {"data": {"name": "botMax"}, "mark": {"type": "text", "align": "left", "baseline": "middle", "dx": 25, "dy": -4.5, "font": "Liberation Sans", "fontSize": 12, "color": "#222222"}, "encoding": {"text": {"field": "label"}}}
          ]
        },
        {"data": {"values": [{"t": "Equal-area\nLower hemisphere"}]}, "mark": {"type": "text", "align": "left", "baseline": "top", "lineBreak": "\n", "lineHeight": 13},
         "encoding": {
           "x": {"datum": -95.9, "type": "quantitative", "scale": {"domain": [-107.5, 107.5], "nice": false, "zero": false}, "axis": null},
           "y": {"datum": -96.3, "type": "quantitative", "scale": {"domain": [-107.5, 107.5], "nice": false, "zero": false}, "axis": null},
           "text": {"field": "t"}}},
        {
          "encoding": {"x": {"datum": 179.7, "type": "quantitative", "scale": {"domain": [-107.5, 107.5], "nice": false, "zero": false}, "axis": null}},
          "layer": [
            {"data": {"values": [{"t": "Lineations\nL1_LargeArea.txt"}]}, "mark": {"type": "text", "align": "left", "baseline": "top", "lineBreak": "\n", "lineHeight": 14},
             "encoding": {"y": {"datum": -5.4, "type": "quantitative", "scale": {"domain": [-107.5, 107.5], "nice": false, "zero": false}, "axis": null}, "text": {"field": "t"}}},
            {"data": {"values": [{"t": "Maximum density: 20.4 %"}]}, "mark": {"type": "text", "align": "left", "baseline": "top"},
             "encoding": {"y": {"datum": -29.9, "type": "quantitative", "scale": {"domain": [-107.5, 107.5], "nice": false, "zero": false}, "axis": null}, "text": {"field": "t"}}},
            {"data": {"values": [{"t": "at 68.6/7.4"}]}, "mark": {"type": "text", "align": "left", "baseline": "top", "dx": 14},
             "encoding": {"y": {"datum": -38.0, "type": "quantitative", "scale": {"domain": [-107.5, 107.5], "nice": false, "zero": false}, "axis": null}, "text": {"field": "t"}}},
            {"data": {"values": [{"t": "Grid detail: Low"}]}, "mark": {"type": "text", "align": "left", "baseline": "top"},
             "encoding": {"y": {"datum": -54.3, "type": "quantitative", "scale": {"domain": [-107.5, 107.5], "nice": false, "zero": false}, "axis": null}, "text": {"field": "t"}}},
            {"data": {"values": [{"t": "Counting method:"}]}, "mark": {"type": "text", "align": "left", "baseline": "top"},
             "encoding": {"y": {"datum": -70.7, "type": "quantitative", "scale": {"domain": [-107.5, 107.5], "nice": false, "zero": false}, "axis": null}, "text": {"field": "t"}}},
            {"data": {"values": [{"t": "Fisher Distribution"}]}, "mark": {"type": "text", "align": "left", "baseline": "top", "dx": 12},
             "encoding": {"y": {"datum": -78.8, "type": "quantitative", "scale": {"domain": [-107.5, 107.5], "nice": false, "zero": false}, "axis": null}, "text": {"field": "t"}}}
          ]
        }
      ]
    },
    {
      "width": 18,
      "height": 369,
      "layer": [
        {"data": {"name": "botBins"}, "mark": {"type": "rect"},
         "encoding": {
           "y": {"field": "from", "type": "quantitative", "scale": {"domain": [-2.872, 45.297], "nice": false, "zero": false},
             "axis": {"orient": "right", "values": [0, 2.26, 4.53, 6.79, 9.05, 11.31, 13.58, 15.84, 18.10, 20.36], "format": ".2f", "domain": false, "grid": false, "ticks": true, "tickSize": 3, "tickColor": "#333333", "labelPadding": 1, "labelFontSize": 10, "labelColor": "#333333", "title": null, "labelOverlap": false}},
           "y2": {"field": "to"},
           "fill": {"field": "from", "type": "quantitative", "scale": {"type": "threshold", "domain": [2.26, 4.53, 6.79, 9.05, 11.31, 13.58, 15.84, 18.10], "range": ["#ecf4fb", "#d6e6f4", "#bdd7ec", "#98c7e0", "#6baed6", "#4795c8", "#2878b9", "#105ca4", "#083f81"]}, "legend": null}}},
        {"data": {"values": [{}]}, "mark": {"type": "rect", "filled": false, "color": "#222222", "strokeWidth": 1},
         "encoding": {"y": {"datum": 0, "type": "quantitative"}, "y2": {"datum": 20.36}}},
        {"data": {"values": [{}]}, "mark": {"type": "text", "text": "Density", "align": "left", "baseline": "bottom", "dx": -8, "dy": -5},
         "encoding": {"y": {"datum": 20.36, "type": "quantitative"}}}
      ]
    }
  ]
}
